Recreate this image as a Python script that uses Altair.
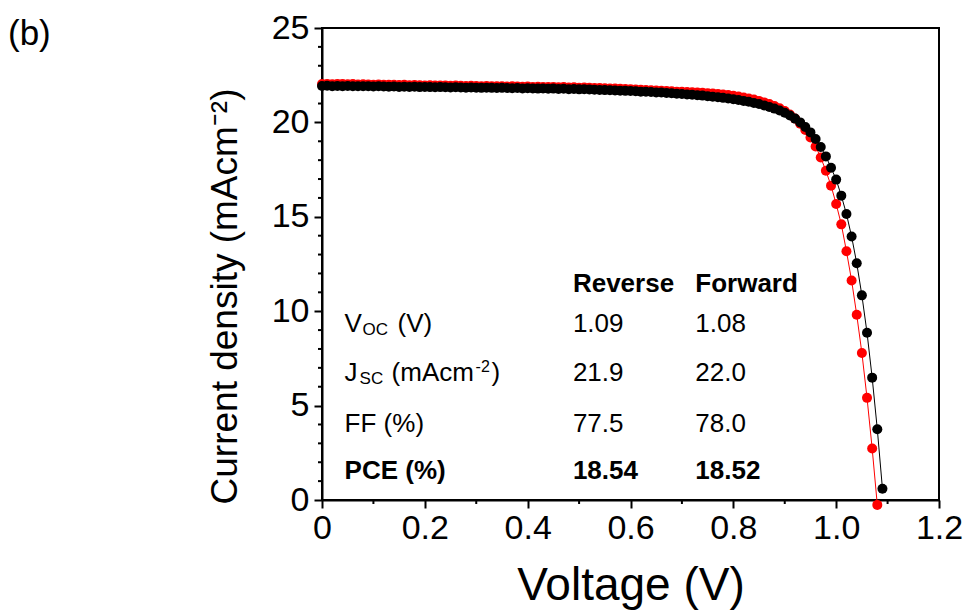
import altair as alt
import pandas as pd

# ---------------- data ----------------
# Reverse scan (black), 0.00 ... 1.09 V
v_rev = [0.00, 0.01, 0.02, 0.03, 0.04, 0.05, 0.06, 0.07, 0.08, 0.09,
         0.10, 0.11, 0.12, 0.13, 0.14, 0.15, 0.16, 0.17, 0.18, 0.19,
         0.20, 0.21, 0.22, 0.23, 0.24, 0.25, 0.26, 0.27, 0.28, 0.29,
         0.30, 0.31, 0.32, 0.33, 0.34, 0.35, 0.36, 0.37, 0.38, 0.39,
         0.40, 0.41, 0.42, 0.43, 0.44, 0.45, 0.46, 0.47, 0.48, 0.49,
         0.50, 0.51, 0.52, 0.53, 0.54, 0.55, 0.56, 0.57, 0.58, 0.59,
         0.60, 0.61, 0.62, 0.63, 0.64, 0.65, 0.66, 0.67, 0.68, 0.69,
         0.70, 0.71, 0.72, 0.73, 0.74, 0.75, 0.76, 0.77, 0.78, 0.79,
         0.80, 0.81, 0.82, 0.83, 0.84, 0.85, 0.86, 0.87, 0.88, 0.89,
         0.90, 0.91, 0.92, 0.93, 0.94, 0.95, 0.96, 0.97, 0.98, 0.99,
         1.00, 1.01, 1.02, 1.03, 1.04, 1.05, 1.06, 1.07, 1.08, 1.09]
j_rev = [21.93, 21.94, 21.92, 21.93, 21.92, 21.93, 21.91, 21.92, 21.91, 21.92,
         21.90, 21.91, 21.90, 21.89, 21.90, 21.88, 21.89, 21.88, 21.89, 21.87,
         21.88, 21.87, 21.86, 21.87, 21.86, 21.85, 21.86, 21.85, 21.84, 21.85,
         21.84, 21.83, 21.84, 21.83, 21.82, 21.83, 21.82, 21.81, 21.82, 21.80,
         21.81, 21.80, 21.79, 21.80, 21.78, 21.79, 21.77, 21.78, 21.76, 21.77,
         21.75, 21.76, 21.74, 21.73, 21.72, 21.71, 21.70, 21.69, 21.68, 21.67,
         21.66, 21.65, 21.63, 21.62, 21.61, 21.59, 21.58, 21.56, 21.54, 21.52,
         21.50, 21.48, 21.46, 21.44, 21.42, 21.39, 21.36, 21.33, 21.30, 21.27,
         21.23, 21.19, 21.14, 21.09, 21.03, 20.97, 20.90, 20.82, 20.73, 20.63,
         20.51, 20.37, 20.20, 20.00, 19.76, 19.47, 19.12, 18.70, 18.20, 17.60,
         16.97, 16.12, 15.15, 13.96, 12.54, 10.84, 8.86, 6.48, 3.75, 0.60]

# Forward scan (red), 0.00 ... 1.08 V
v_fwd = [0.00, 0.01, 0.02, 0.03, 0.04, 0.05, 0.06, 0.07, 0.08, 0.09,
         0.10, 0.11, 0.12, 0.13, 0.14, 0.15, 0.16, 0.17, 0.18, 0.19,
         0.20, 0.21, 0.22, 0.23, 0.24, 0.25, 0.26, 0.27, 0.28, 0.29,
         0.30, 0.31, 0.32, 0.33, 0.34, 0.35, 0.36, 0.37, 0.38, 0.39,
         0.40, 0.41, 0.42, 0.43, 0.44, 0.45, 0.46, 0.47, 0.48, 0.49,
         0.50, 0.51, 0.52, 0.53, 0.54, 0.55, 0.56, 0.57, 0.58, 0.59,
         0.60, 0.61, 0.62, 0.63, 0.64, 0.65, 0.66, 0.67, 0.68, 0.69,
         0.70, 0.71, 0.72, 0.73, 0.74, 0.75, 0.76, 0.77, 0.78, 0.79,
         0.80, 0.81, 0.82, 0.83, 0.84, 0.85, 0.86, 0.87, 0.88, 0.89,
         0.90, 0.91, 0.92, 0.93, 0.94, 0.95, 0.96, 0.97, 0.98, 0.99,
         1.00, 1.01, 1.02, 1.03, 1.04, 1.05, 1.06, 1.07, 1.08]
j_fwd = [22.03, 22.04, 22.02, 22.04, 22.03, 22.02, 22.03, 22.01, 22.02, 22.01,
         22.00, 22.01, 21.99, 22.00, 21.99, 21.98, 21.99, 21.97, 21.98, 21.97,
         21.96, 21.97, 21.96, 21.95, 21.96, 21.94, 21.95, 21.94, 21.93, 21.94,
         21.93, 21.92, 21.93, 21.92, 21.91, 21.92, 21.90, 21.91, 21.90, 21.89,
         21.90, 21.88, 21.89, 21.88, 21.87, 21.88, 21.86, 21.87, 21.85, 21.86,
         21.84, 21.85, 21.83, 21.82, 21.82, 21.81, 21.80, 21.79, 21.78, 21.77,
         21.75, 21.74, 21.73, 21.71, 21.70, 21.69, 21.67, 21.66, 21.65, 21.63,
         21.62, 21.61, 21.60, 21.58, 21.57, 21.55, 21.53, 21.51, 21.48, 21.45,
         21.41, 21.37, 21.32, 21.27, 21.21, 21.14, 21.06, 20.97, 20.87, 20.75,
         20.60, 20.42, 20.20, 19.93, 19.60, 19.20, 18.72, 18.14, 17.44, 16.65,
         15.68, 14.60, 13.18, 11.63, 9.81, 7.79, 5.41, 2.73, -0.26]

# axis ticks
x_major = [0.0, 0.2, 0.4, 0.6, 0.8, 1.0, 1.2]
x_minor = [0.1, 0.3, 0.5, 0.7, 0.9, 1.1]
y_major = [0, 5, 10, 15, 20, 25]
y_minor = [1, 2, 3, 4, 6, 7, 8, 9, 11, 12, 13, 14, 16, 17, 18, 19, 21, 22, 23, 24]

# table texts
col_headers = ["Reverse", "Forward"]
rev_values = ["1.09", "21.9", "77.5", "18.54"]
fwd_values = ["1.08", "22.0", "78.0", "18.52"]
panel_label = "(b)"

# ---------------- layout constants ----------------
FONT = "Liberation Sans"
TABLE_X = [0.044, 0.488, 0.726]           # label column, reverse column, forward column (V)
TABLE_Y = [11.03, 8.92, 6.32, 3.62, 1.11]  # header, Voc, Jsc, FF, PCE baselines (mA/cm2)
TFS = 26
W, H = 617, 472

rev_df = pd.DataFrame({"V": v_rev, "J": j_rev})
fwd_df = pd.DataFrame({"V": v_fwd, "J": j_fwd})

x_axis = alt.Axis(
    values=x_major, title="Voltage (V)", grid=False,
    labelExpr="datum.value === 0 ? '0' : format(datum.value, '.1f')",
    tickSize=8, tickWidth=2, domainWidth=2, domainColor="black", tickColor="black",
    labelFont=FONT, labelFontSize=34, labelColor="black", labelPadding=3,
    labelOverlap=False, labelFlush=False,
    titleFont=FONT, titleFontSize=46, titleFontWeight="normal", titleColor="black", titlePadding=18,
)
y_axis = alt.Axis(
    values=y_major, title="Current density (mAcm\u207b\u00b2)", grid=False,
    tickSize=8, tickWidth=2, domainWidth=2, domainColor="black", tickColor="black",
    labelFont=FONT, labelFontSize=34, labelColor="black", labelPadding=5,
    labelOverlap=False, labelFlush=False,
    titleFont=FONT, titleFontSize=37, titleFontWeight="normal", titleColor="black",
    titlePadding=27, titleY=268,
)

X = alt.X("V:Q", scale=alt.Scale(domain=[0, 1.2], nice=False, zero=False), axis=x_axis)
Y = alt.Y("J:Q", scale=alt.Scale(domain=[0, 25], nice=False), axis=y_axis)
Xp = alt.X("V:Q")
Yp = alt.Y("J:Q")

red_line = alt.Chart(fwd_df).mark_line(color="#ff0000", strokeWidth=1).encode(x=X, y=Y)
red_pts = alt.Chart(fwd_df).mark_circle(color="#ff0000", size=100, opacity=1).encode(x=Xp, y=Yp)
blk_line = alt.Chart(rev_df).mark_line(color="black", strokeWidth=1).encode(x=Xp, y=Yp)
blk_pts = alt.Chart(rev_df).mark_circle(color="black", size=100, opacity=1).encode(x=Xp, y=Yp)

# minor ticks (outward, shorter than the major ones)
x_minor_ticks = alt.Chart(pd.DataFrame({"V": x_minor})).mark_rule(
    color="black", strokeWidth=2
).encode(x=Xp, y=alt.value(H), y2=alt.value(H + 4))
y_minor_ticks = alt.Chart(pd.DataFrame({"J": y_minor})).mark_rule(
    color="black", strokeWidth=2
).encode(y=Yp, x=alt.value(-4), x2=alt.value(0))


def txt(text, xi, yi, size=TFS, dx=0, dy=0, bold=False):
    d = pd.DataFrame({"V": [TABLE_X[xi]], "J": [TABLE_Y[yi]], "t": [text]})
    return alt.Chart(d).mark_text(
        align="left", baseline="alphabetic", font=FONT, fontSize=size,
        fontWeight="bold" if bold else "normal", color="black", dx=dx, dy=dy,
    ).encode(x=Xp, y=Yp, text="t:N")


texts = [
    txt(col_headers[0], 1, 0, bold=True),
    txt(col_headers[1], 2, 0, bold=True),
    # Voc row
    txt("V", 0, 1),
    txt("OC", 0, 1, size=17, dx=18, dy=3.5),
    txt("(V)", 0, 1, dx=53),
    # Jsc row
    txt("J", 0, 2),
    txt("SC", 0, 2, size=17, dx=15, dy=3.5),
    txt("(mAcm", 0, 2, dx=47),
    txt("-2", 0, 2, size=16, dx=131, dy=-9),
    txt(")", 0, 2, dx=147),
    # FF, PCE rows
    txt("FF (%)", 0, 3),
    txt("PCE (%)", 0, 4, bold=True),
]
for i in range(4):
    bold = i == 3
    texts.append(txt(rev_values[i], 1, i + 1, bold=bold))
    texts.append(txt(fwd_values[i], 2, i + 1, bold=bold))

label = alt.Chart(pd.DataFrame({"t": [panel_label]})).mark_text(
    align="left", baseline="alphabetic", font=FONT, fontSize=35, color="black"
).encode(x=alt.value(-314), y=alt.value(17), text="t:N")

chart = alt.layer(
    red_line, red_pts, blk_line, blk_pts, x_minor_ticks, y_minor_ticks, *texts, label
).properties(
    width=W, height=H,
    autosize=alt.AutoSizeParams(type="none"),
    padding={"left": 322, "top": 28, "right": 29, "bottom": 110},
    background="white",
).configure_view(stroke="black", strokeWidth=2)

chart.save("out.html", embed_options={"renderer": "svg", "actions": False})
